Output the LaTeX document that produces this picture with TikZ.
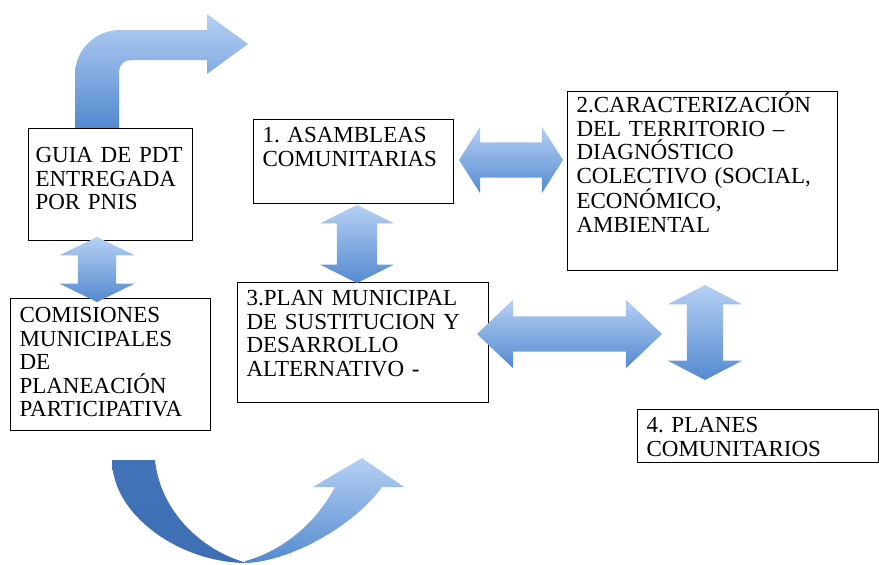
\documentclass[tikz,border=0pt]{standalone}
\usepackage{fontspec}
\setmainfont{Liberation Serif}
\usetikzlibrary{shapes.arrows}

\definecolor{azulclaro}{RGB}{182,208,244}
\definecolor{azulmedio}{RGB}{84,138,208}
\definecolor{azulhondo}{RGB}{62,110,180}

\begin{document}
\begin{tikzpicture}[
  x=1pt, y=-1pt,
  caja/.style={draw=black, line width=1.1pt, fill=white, anchor=north west, align=left,
    inner xsep=9pt, inner ysep=4pt, text height=19pt,
    font=\fontsize{23}{23.5}\selectfont\frenchspacing},
  flecha/.style={double arrow, double arrow head indent=0pt, minimum width=0pt,
    top color=azulclaro, bottom color=azulmedio, draw=none},
  fv/.style={flecha, shape border rotate=90}
]
  \useasboundingbox (0,0) rectangle (879,565);

  % flecha doblada arriba
  \path[top color=azulclaro, bottom color=azulmedio]
    (75,128) -- (75,75) .. controls (75,50) and (95,30) .. (120,30) -- (207,30)
    -- (207,14) -- (248,44) -- (207,74) -- (207,60) -- (131,60)
    .. controls (124,60) and (119,65) .. (119,72) -- (119,128) -- cycle;

  % flecha curva abajo
  \path[top color=azulclaro, bottom color=azulmedio]
    (245,563) .. controls (290,562) and (355,525) .. (382,487) -- (404,487)
    -- (362,458) -- (313,487) -- (335,487)
    .. controls (315,525) and (280,552) .. (245,561) -- cycle;
  \path[top color=azulhondo!80!azulmedio, bottom color=azulhondo]
    (112,460) .. controls (112,515) and (180,563) .. (247,563)
    .. controls (200,550) and (160,510) .. (155,460) -- cycle;

  \node[caja, inner xsep=7pt, text width=150pt, text height=30pt, text depth=74pt](guia) at (28,128){GUIA DE PDT\\ENTREGADA\\POR PNIS};
  \node[caja, text width=182pt, text depth=57pt](asam) at (253,119){1. ASAMBLEAS\\COMUNITARIAS};
  \node[caja, text width=252pt, text height=17pt, text depth=154pt](carac) at (567,91){2.CARACTERIZACIÓN\\DEL TERRITORIO –\\DIAGNÓSTICO\\COLECTIVO (SOCIAL,\\ECONÓMICO,\\AMBIENTAL};
  \node[caja, text width=182pt, text height=20pt, text depth=104pt](comis) at (10,298){COMISIONES\\MUNICIPALES\\DE\\PLANEACIÓN\\PARTICIPATIVA};
  \node[caja, text width=233pt, text depth=93pt](plan) at (237,282){3.PLAN MUNICIPAL\\DE SUSTITUCION Y\\DESARROLLO\\ALTERNATIVO -};
  \node[caja, text width=223pt, text depth=26pt](planes) at (637,409){4. PLANES\\COMUNITARIOS};

  \node[fv, inner sep=19pt, minimum height=65pt, double arrow head extend=18.5pt, double arrow tip angle=128](a1) at (97,269.5){};
  \node[fv, inner sep=20pt, minimum height=78pt, double arrow head extend=16.5pt, double arrow tip angle=127](a2) at (357,244){};
  \node[flecha, inner sep=17.5pt, minimum height=104pt, double arrow head extend=15.5pt, double arrow tip angle=115](a3) at (511,160){};
  \node[flecha, inner sep=17.5pt, minimum height=185pt, double arrow head extend=16.5pt, double arrow tip angle=87](a4) at (569.5,334){};
  \node[fv, inner sep=18pt, minimum height=95pt, double arrow head extend=19pt, double arrow tip angle=125](a5) at (705,332.5){};
\end{tikzpicture}
\end{document}
